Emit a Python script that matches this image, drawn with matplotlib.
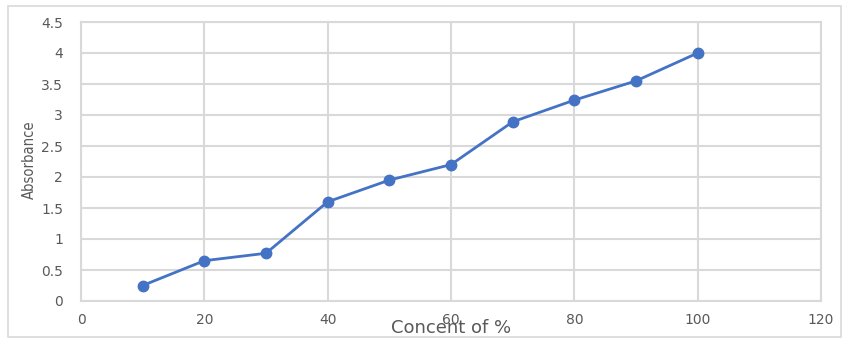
import matplotlib
matplotlib.use("Agg")
import matplotlib.pyplot as plt
from matplotlib.patches import Rectangle

# concentration (%) vs measured absorbance
concent = [10, 20, 30, 40, 50, 60, 70, 80, 90, 100]
absorbance = [0.25, 0.65, 0.77, 1.6, 1.95, 2.2, 2.89, 3.24, 3.55, 4.0]

x_ticks = [0, 20, 40, 60, 80, 100, 120]
y_ticks = [0, 0.5, 1, 1.5, 2, 2.5, 3, 3.5, 4, 4.5]
y_labels = ["0", "0.5", "1", "1.5", "2", "2.5", "3", "3.5", "4", "4.5"]

line_color = "#4472C4"
grid_color = "#D9D9D9"
text_color = "#595959"

fig = plt.figure(figsize=(8.42, 3.4), dpi=100)
fig.patch.set_facecolor("white")

# light frame around the whole chart
fig.patches.append(Rectangle((8 / 842, 3 / 340), 833 / 842, 331 / 340,
                             transform=fig.transFigure, fill=False,
                             edgecolor="#D9D9D9", lw=1.2))

ax = fig.add_axes([81 / 842, 39 / 340, 740 / 842, 279 / 340])
ax.plot(concent, absorbance, color=line_color, lw=2, marker="o",
        markersize=7.5, zorder=3)

ax.set_xlim(0, 120)
ax.set_ylim(0, 4.5)
ax.set_xticks(x_ticks)
ax.set_yticks(y_ticks)
ax.set_yticklabels(y_labels)
ax.grid(True, color=grid_color, lw=1.5)
ax.set_axisbelow(True)
for s in ax.spines.values():
    s.set_color(grid_color)
    s.set_linewidth(1.5)
ax.tick_params(length=0, colors=text_color, labelsize=10)
ax.tick_params(axis="y", pad=13)
ax.tick_params(axis="x", pad=9)
for lab in ax.get_xticklabels() + ax.get_yticklabels():
    lab.set_family("DejaVu Sans")

fig.text(29 / 842, 1 - 160 / 340, "Absorbance", rotation=90,
         family=["DejaVu Sans"], stretch="condensed", fontsize=10.5,
         color=text_color, ha="center", va="center")
fig.text(451 / 842, 1 - 328 / 340, "Concent of %", family="DejaVu Sans",
         fontsize=13, color=text_color, ha="center", va="center")

fig.savefig("out.png", dpi=100)
